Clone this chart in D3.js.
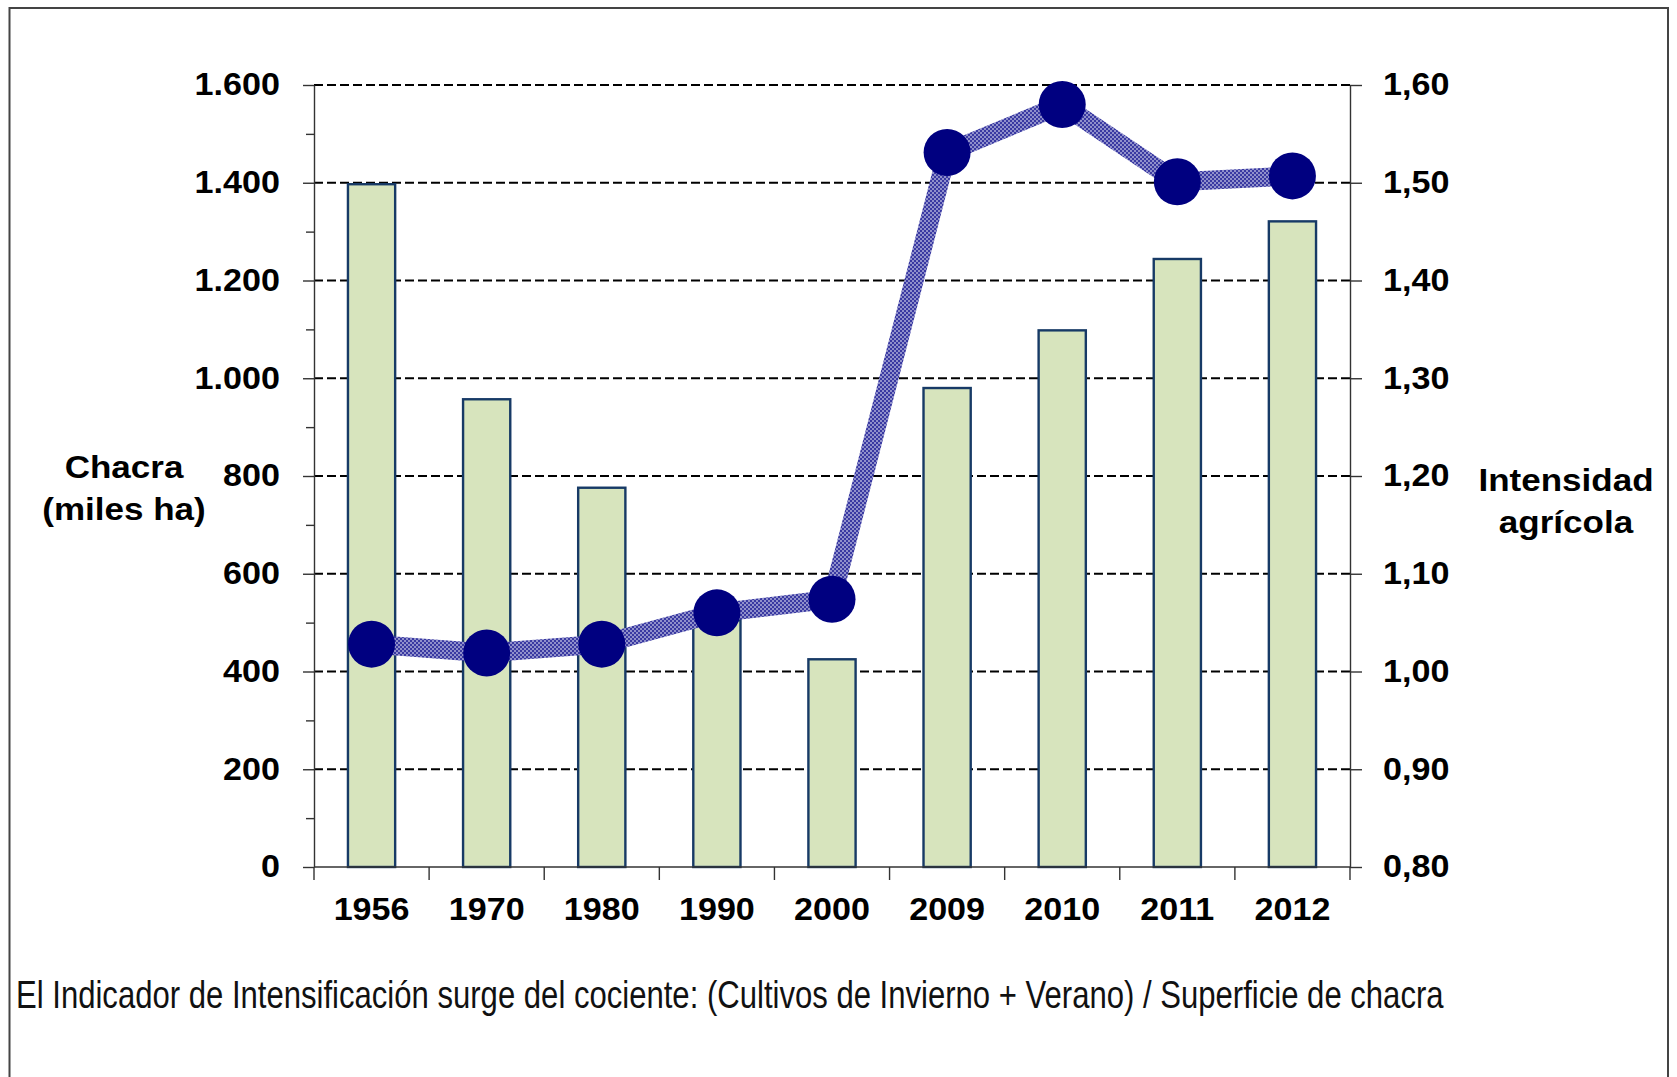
<!DOCTYPE html>
<html>
<head>
<meta charset="utf-8">
<script src="https://cdn.jsdelivr.net/npm/d3@7"></script>
<style>
  body { margin: 0; background: #fff; }
  svg { display: block; font-family: "Liberation Sans", Arial, sans-serif; }
</style>
</head>
<body>
<svg id="chart" width="1677" height="1077"></svg>
<script>

// Data
var years = ['1956', '1970', '1980', '1990', '2000', '2009', '2010', '2011', '2012'];
var chacra = [1397, 957, 776, 505, 425, 980, 1098, 1244, 1321];
var intensidad = [1.028, 1.019, 1.028, 1.060, 1.074, 1.531, 1.580, 1.501, 1.507];

var leftTicks = [0, 200, 400, 600, 800, 1000, 1200, 1400, 1600];
var leftTickLabels = ['0', '200', '400', '600', '800', '1.000', '1.200', '1.400', '1.600'];
var leftMinorTicks = [100, 300, 500, 700, 900, 1100, 1300, 1500];
var rightTicks = [0.8, 0.9, 1.0, 1.1, 1.2, 1.3, 1.4, 1.5, 1.6];
var rightTickLabels = ['0,80', '0,90', '1,00', '1,10', '1,20', '1,30', '1,40', '1,50', '1,60'];

var leftTitle = ['Chacra', '(miles ha)'];
var rightTitle = ['Intensidad', 'agrícola'];
var caption = 'El Indicador de Intensificación surge del cociente: (Cultivos de Invierno + Verano) / Superficie de chacra';


var svg = d3.select('#chart');

// plot area
var margin = {left: 314, right: 1350, top: 85, bottom: 867};
var stretch = 1.1;   // text in the picture is a bit wider than normal

var x = d3.scaleBand().domain(years).range([margin.left, margin.right]);
var yLeft = d3.scaleLinear().domain([0, 1600]).range([margin.bottom, margin.top]);
var yRight = d3.scaleLinear().domain([0.8, 1.6]).range([margin.bottom, margin.top]);
var barWidth = x.bandwidth() * 0.41;

// dotted fill for the line
var defs = svg.append('defs');
var pat = defs.append('pattern')
    .attr('id', 'dots')
    .attr('width', 4)
    .attr('height', 4)
    .attr('patternUnits', 'userSpaceOnUse');
pat.append('rect').attr('width', 4).attr('height', 4).attr('fill', '#3a3aa2');
pat.append('circle').attr('cx', 1).attr('cy', 1).attr('r', 0.8).attr('fill', '#fff');
pat.append('circle').attr('cx', 3).attr('cy', 3).attr('r', 0.8).attr('fill', '#fff');

// outer frame
svg.append('rect')
    .attr('x', 9.5)
    .attr('y', 8)
    .attr('width', 1658.5)
    .attr('height', 1100)
    .attr('fill', 'none')
    .attr('stroke', '#444')
    .attr('stroke-width', 2);


/*****************************/
// Gridlines
/*****************************/

svg.append('g')
    .selectAll('line')
    .data(leftTicks.slice(1))
    .enter().append('line')
    .attr('x1', margin.left)
    .attr('x2', margin.right)
    .attr('y1', function(d) { return yLeft(d); })
    .attr('y2', function(d) { return yLeft(d); })
    .attr('stroke', '#000')
    .attr('stroke-width', 2)
    .attr('stroke-dasharray', '9,4');


/*****************************/
// Bars
/*****************************/

svg.append('g')
    .selectAll('rect')
    .data(chacra)
    .enter().append('rect')
    .attr('x', function(d, i) { return x(years[i]) + (x.bandwidth() - barWidth) / 2; })
    .attr('y', function(d) { return yLeft(d); })
    .attr('width', barWidth)
    .attr('height', function(d) { return yLeft(0) - yLeft(d); })
    .attr('fill', '#d7e4bd')
    .attr('stroke', '#173a66')
    .attr('stroke-width', 2.4);


/*****************************/
// Axes
/*****************************/

var leftAxis = svg.append('g')
    .attr('transform', 'translate(' + margin.left + ',0)')
    .call(d3.axisLeft(yLeft)
        .tickValues(leftTicks)
        .tickSize(11)
        .tickSizeOuter(0)
        .tickFormat(function(d, i) { return leftTickLabels[i]; }));

svg.append('g')
    .attr('transform', 'translate(' + margin.left + ',0)')
    .call(d3.axisLeft(yLeft)
        .tickValues(leftMinorTicks)
        .tickSize(8)
        .tickSizeOuter(0)
        .tickFormat(''))
    .select('.domain').remove();

var rightAxis = svg.append('g')
    .attr('transform', 'translate(' + margin.right + ',0)')
    .call(d3.axisRight(yRight)
        .tickValues(rightTicks)
        .tickSize(12)
        .tickSizeOuter(0)
        .tickFormat(function(d, i) { return rightTickLabels[i]; }));

leftAxis.selectAll('text').attr('x', -31);
rightAxis.selectAll('text').attr('x', 30);

[leftAxis, rightAxis].forEach(function(ax) {
    ax.selectAll('text')
        .attr('font-size', 31)
        .attr('font-weight', 'bold')
        .attr('font-family', '"Liberation Sans", Arial, sans-serif')
        .attr('fill', '#000')
        .attr('transform', 'scale(' + stretch + ',1)');
});

// x axis: line plus ticks on the category boundaries
var bounds = years.map(function(d) { return x(d); }).concat([x.range()[1]]);

var xAxis = svg.append('g');
xAxis.append('line')
    .attr('x1', margin.left)
    .attr('x2', margin.right)
    .attr('y1', yLeft(0))
    .attr('y2', yLeft(0));
xAxis.selectAll('.xtick')
    .data(bounds)
    .enter().append('line')
    .attr('class', 'xtick')
    .attr('x1', function(d) { return d; })
    .attr('x2', function(d) { return d; })
    .attr('y1', yLeft(0))
    .attr('y2', yLeft(0) + 13);

xAxis.selectAll('text')
    .data(years)
    .enter().append('text')
    .attr('transform', function(d) {
        return 'translate(' + (x(d) + x.bandwidth() / 2) + ',920) scale(' + stretch + ',1)';
    })
    .attr('text-anchor', 'middle')
    .attr('font-size', 31)
    .attr('font-weight', 'bold')
    .text(function(d) { return d; });

svg.selectAll('.domain, .tick line, g line:not([stroke-dasharray])')
    .filter(function() { return !this.getAttribute('stroke-dasharray'); })
    .attr('stroke', '#333')
    .attr('stroke-width', 1.4);


/*****************************/
// Line + markers
/*****************************/

var line = d3.line()
    .x(function(d, i) { return x(years[i]) + x.bandwidth() / 2; })
    .y(function(d) { return yRight(d); });

svg.append('path')
    .datum(intensidad)
    .attr('d', line)
    .attr('fill', 'none')
    .attr('stroke', 'url(#dots)')
    .attr('stroke-width', 19)
    .attr('stroke-linejoin', 'round');

svg.append('g')
    .selectAll('circle')
    .data(intensidad)
    .enter().append('circle')
    .attr('cx', function(d, i) { return x(years[i]) + x.bandwidth() / 2; })
    .attr('cy', function(d) { return yRight(d); })
    .attr('r', 23.5)
    .attr('fill', '#000080');


/*****************************/
// Titles and caption
/*****************************/

svg.append('text')
    .attr('transform', 'translate(124,0) scale(1.13,1)')
    .attr('text-anchor', 'middle')
    .attr('font-size', 31)
    .attr('font-weight', 'bold')
    .selectAll('tspan')
    .data(leftTitle)
    .enter().append('tspan')
    .attr('x', 0)
    .attr('y', function(d, i) { return 478 + i * 42; })
    .text(function(d) { return d; });

svg.append('text')
    .attr('transform', 'translate(1566,0) scale(1.13,1)')
    .attr('text-anchor', 'middle')
    .attr('font-size', 31)
    .attr('font-weight', 'bold')
    .selectAll('tspan')
    .data(rightTitle)
    .enter().append('tspan')
    .attr('x', 0)
    .attr('y', function(d, i) { return 491 + i * 42; })
    .text(function(d) { return d; });

// caption is narrow in the picture: squeeze it to the measured width
var captionText = svg.append('text')
    .attr('x', 0)
    .attr('y', 0)
    .attr('font-size', 38)
    .attr('fill', '#111')
    .text(caption);
var captionWidth = captionText.node().getComputedTextLength();
captionText.attr('transform', 'translate(16,1008) scale(' + (1428 / captionWidth) + ',1)');

</script>
</body>
</html>
